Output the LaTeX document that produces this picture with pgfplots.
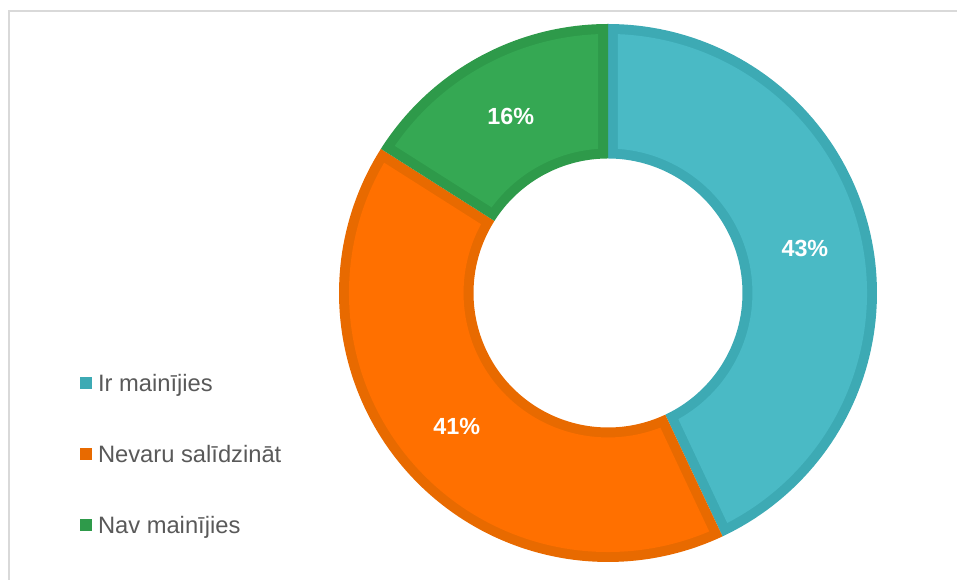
\documentclass[border=0pt]{standalone}
\usepackage{pgfplots}
\pgfplotsset{compat=1.18}
\usepackage{pgfplotstable}
\usepackage{fontspec}
\setmainfont{Liberation Sans}
\definecolor{tealF}{HTML}{4ABAC5}
\definecolor{tealD}{HTML}{3DAAB4}
\definecolor{orangeF}{HTML}{FF7000}
\definecolor{orangeD}{HTML}{E86A00}
\definecolor{greenF}{HTML}{35A853}
\definecolor{greenD}{HTML}{2E9A4A}
\definecolor{legtext}{HTML}{595959}
\definecolor{frameC}{HTML}{D9D9D9}

% share of each answer, percent
\pgfplotstableread{
pct
43
41
16
}\donutdata

\def\Ro{1}
\def\Ri{0.5}
\def\bw{0.037}

% #1 start angle, #2 end angle (clockwise), #3 fill colour, #4 border colour
\newcommand\donutslice[4]{%
  \pgfmathsetmacro\dA{#1}\pgfmathsetmacro\dB{#2}%
  \pgfmathsetmacro\dOo{asin(\bw/(\Ro-\bw))}%
  \pgfmathsetmacro\dIi{asin(\bw/(\Ri+\bw))}%
  \pgfmathsetmacro\oA{\dA-\dOo}\pgfmathsetmacro\oB{\dB+\dOo}%
  \pgfmathsetmacro\iA{\dA-\dIi}\pgfmathsetmacro\iB{\dB+\dIi}%
  \pgfmathsetmacro\Rob{\Ro-\bw}\pgfmathsetmacro\Rib{\Ri+\bw}%
  \edef\doplotA{\noexpand\addplot[fill=#4, draw=none, samples at={0,...,201}, variable=\noexpand\t]
   ({\noexpand\t<100.5 ? \Ro*cos((\dA)+((\dB)-(\dA))*\noexpand\t/100) : \Ri*cos((\dB)+((\dA)-(\dB))*(\noexpand\t-101)/100)},
    {\noexpand\t<100.5 ? \Ro*sin((\dA)+((\dB)-(\dA))*\noexpand\t/100) : \Ri*sin((\dB)+((\dA)-(\dB))*(\noexpand\t-101)/100)});}%
  \doplotA
  \edef\doplotB{\noexpand\addplot[fill=#3, draw=none, forget plot, samples at={0,...,201}, variable=\noexpand\t]
   ({\noexpand\t<100.5 ? \Rob*cos((\oA)+((\oB)-(\oA))*\noexpand\t/100) : \Rib*cos((\iB)+((\iA)-(\iB))*(\noexpand\t-101)/100)},
    {\noexpand\t<100.5 ? \Rob*sin((\oA)+((\oB)-(\oA))*\noexpand\t/100) : \Rib*sin((\iB)+((\iA)-(\iB))*(\noexpand\t-101)/100)});}%
  \doplotB
}

\begin{document}
\begin{tikzpicture}
\useasboundingbox (0,0) rectangle (717.75pt,435pt);
\draw[frameC, line width=1.5pt] (6.4pt,0) -- (6.4pt,426.4pt) -- (717.75pt,426.4pt);

\pgfplotstablegetelem{0}{pct}\of\donutdata \edef\pA{\pgfplotsretval}
\pgfplotstablegetelem{1}{pct}\of\donutdata \edef\pB{\pgfplotsretval}
\pgfplotstablegetelem{2}{pct}\of\donutdata \edef\pC{\pgfplotsretval}
\pgfmathsetmacro\aA{90}
\pgfmathsetmacro\aB{\aA-3.6*\pA}
\pgfmathsetmacro\aC{\aB-3.6*\pB}
\pgfmathsetmacro\aD{\aC-3.6*\pC}
\pgfmathsetmacro\mA{(\aA+\aB)/2}
\pgfmathsetmacro\mB{(\aB+\aC)/2}
\pgfmathsetmacro\mC{(\aC+\aD)/2}

\begin{axis}[
  at={(456pt,215.25pt)}, anchor=center,
  width=403.5pt, height=403.5pt, scale only axis,
  xmin=-1, xmax=1, ymin=-1, ymax=1,
  hide axis, clip=false,
  legend image code/.code={\fill[#1] (0pt,-4.5pt) rectangle (9pt,4.5pt); \path (13.5pt,0pt);},
  legend style={at={(rel axis cs:-0.4814,0.3526)}, anchor=north west,
    draw=none, fill=none, inner sep=0pt, outer sep=0pt,
    row sep=37.25pt,
    font=\fontsize{17.8}{20}\selectfont, text=legtext,
    nodes={inner sep=0pt, text height=14.4pt, text depth=1.6pt},
    cells={anchor=west}},
]
\donutslice{\aA}{\aB}{tealF}{tealD}
\addlegendentry{Ir mainījies}
\donutslice{\aB}{\aC}{orangeF}{orangeD}
\addlegendentry{Nevaru salīdzināt}
\donutslice{\aC}{\aD}{greenF}{greenD}
\addlegendentry{Nav mainījies}

\node[font=\fontsize{17.5}{20}\selectfont\bfseries, text=white] at (axis cs:{0.75*cos(\mA)},{0.75*sin(\mA)}) {\pA\%};
\node[font=\fontsize{17.5}{20}\selectfont\bfseries, text=white] at (axis cs:{0.75*cos(\mB)},{0.75*sin(\mB)}) {\pB\%};
\node[font=\fontsize{17.5}{20}\selectfont\bfseries, text=white] at (axis cs:{0.75*cos(\mC)},{0.75*sin(\mC)}) {\pC\%};
\end{axis}
\end{tikzpicture}
\end{document}
